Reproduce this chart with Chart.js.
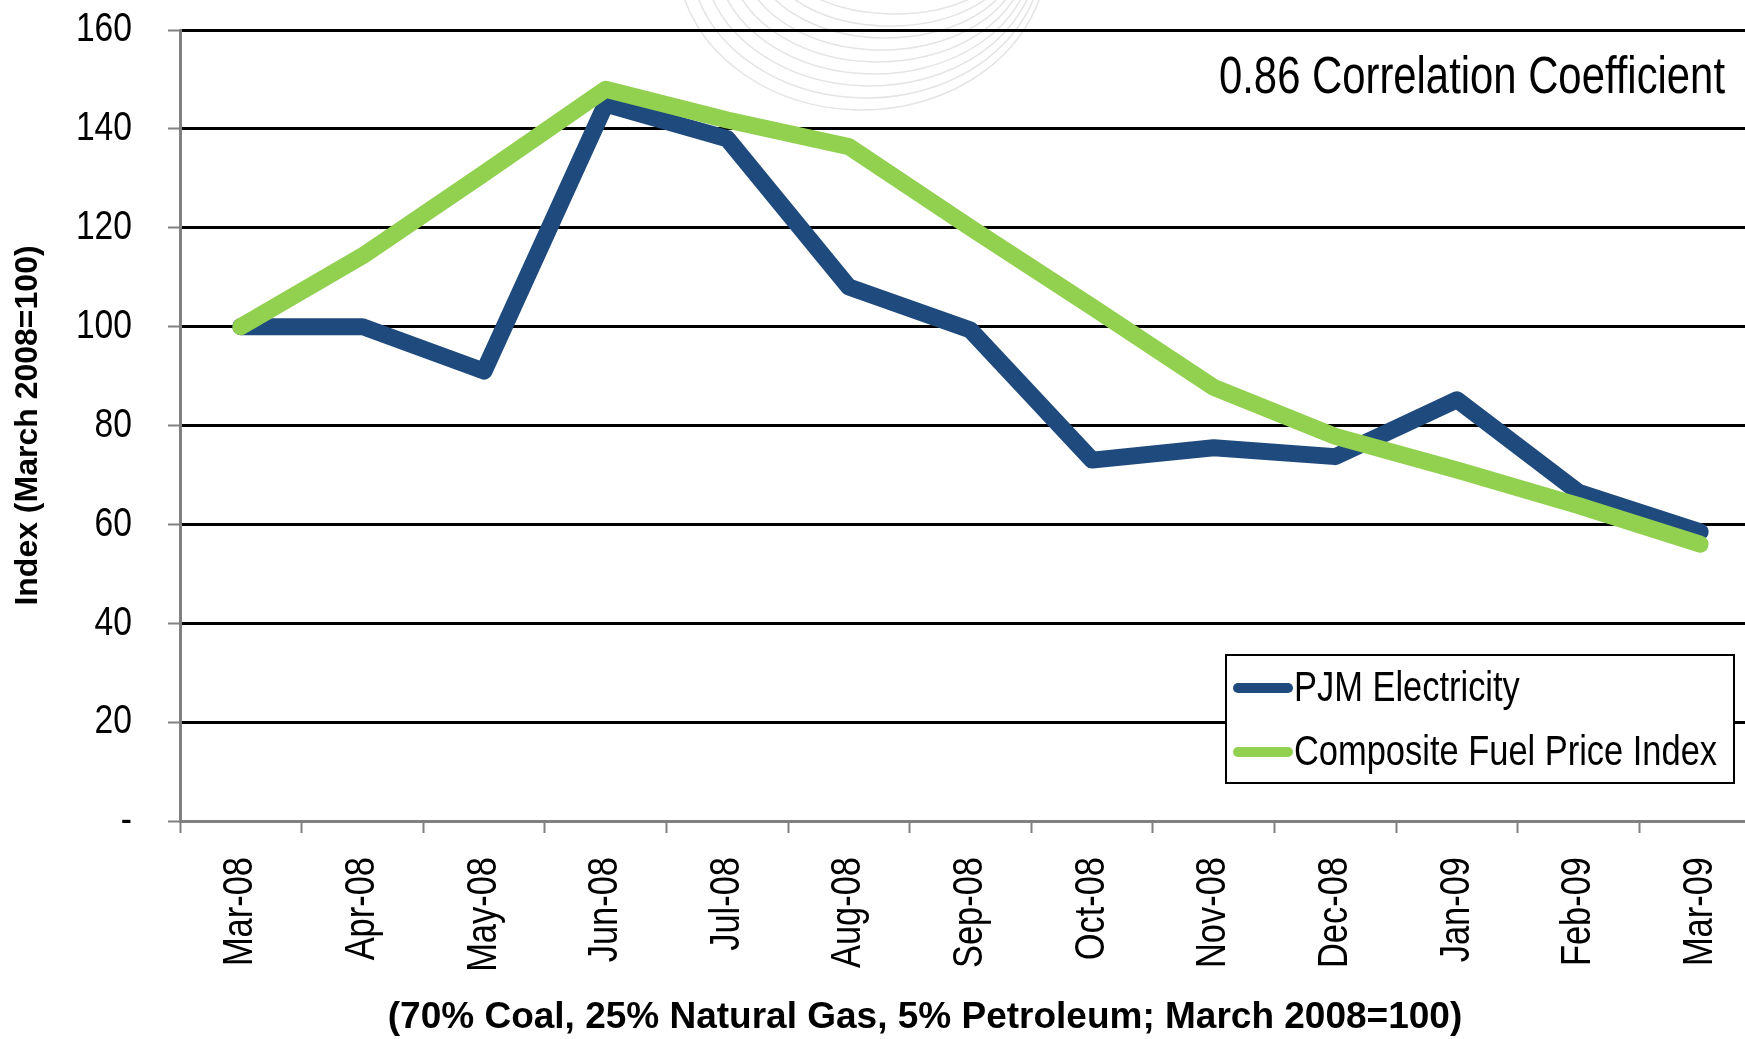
<!DOCTYPE html>
<html>
<head>
<meta charset="utf-8">
<script src="https://cdn.jsdelivr.net/npm/chart.js@4/dist/chart.umd.min.js"></script>
<style>
  html, body { margin: 0; padding: 0; background: #fff; overflow: hidden; }
  #wrap { position: relative; width: 1765px; height: 1039px; }
</style>
</head>
<body>
<div id="wrap"><canvas id="chart"></canvas></div>
<script>
const months = ["Mar-08", "Apr-08", "May-08", "Jun-08", "Jul-08", "Aug-08", "Sep-08",
  "Oct-08", "Nov-08", "Dec-08", "Jan-09", "Feb-09", "Mar-09"];
const pjmElectricity = [100, 100, 91, 145, 138, 108, 99.3, 73, 75.5, 73.7, 85.2, 66.5, 58.5];
const compositeFuel = [100, 114.3, 131, 148, 141.8, 136.4, 120, 104, 87.7, 77.8, 71, 63.8, 56];
const yTicks = [0, 20, 40, 60, 80, 100, 120, 140, 160];

const SANS = "'Liberation Sans', Arial, sans-serif";
const BLUE = "#1F4A7D";
const GREEN = "#92D050";
const AXIS_GREY = "#808080";

// no Arial Narrow here, so squeeze Liberation Sans sideways
function narrowText(ctx, text, x, y, size, align, rotated) {
  ctx.save();
  ctx.translate(x, y);
  if (rotated) ctx.rotate(-Math.PI / 2);
  ctx.scale(0.82, 1);
  ctx.font = size + "px " + SANS;
  ctx.textAlign = align;
  ctx.textBaseline = "middle";
  ctx.fillStyle = "#000";
  ctx.fillText(text, 0, 0);
  ctx.restore();
}

// faint logo arcs behind the plot
const watermark = {
  id: "watermark",
  beforeDraw(chart) {
    const ctx = chart.ctx;
    ctx.save();
    ctx.strokeStyle = "#E4E4E4";
    ctx.lineWidth = 1.5;
    for (let i = 0; i < 9; i++) {
      ctx.beginPath();
      ctx.ellipse(862 + i * 4, -45, 185 - i * 9, 155 - i * 12, 0, 0.05, Math.PI - 0.25);
      ctx.stroke();
    }
    ctx.restore();
  }
};

// tick labels, correlation note, x caption and the boxed legend
const extras = {
  id: "extras",
  afterDraw(chart) {
    const ctx = chart.ctx;
    const xs = chart.scales.x;
    const ys = chart.scales.y;

    ys.ticks.forEach((t) => {
      narrowText(ctx, t.value === 0 ? "-" : String(t.value), 132, ys.getPixelForValue(t.value), 41, "right", false);
    });
    xs.ticks.forEach((t, i) => {
      narrowText(ctx, months[i], xs.getPixelForTick(i), xs.top + 36, 42, "right", true);
    });

    narrowText(ctx, "0.86 Correlation Coefficient", 1725, 79, 51, "right", false);

    ctx.save();
    ctx.fillStyle = "#000";
    ctx.textBaseline = "middle";
    ctx.font = "bold 37px " + SANS;
    ctx.textAlign = "center";
    ctx.fillText("(70% Coal, 25% Natural Gas, 5% Petroleum; March 2008=100)", 925, 1018);

    const box = { x: 1226, y: 655, w: 508, h: 128 };
    ctx.fillStyle = "#fff";
    ctx.fillRect(box.x, box.y, box.w, box.h);
    ctx.strokeStyle = "#000";
    ctx.lineWidth = 2;
    ctx.strokeRect(box.x, box.y, box.w, box.h);

    const rows = [688, 752];
    chart.data.datasets.forEach((ds, i) => {
      ctx.strokeStyle = ds.borderColor;
      ctx.lineWidth = 10;
      ctx.lineCap = "round";
      ctx.beginPath();
      ctx.moveTo(1238, rows[i]);
      ctx.lineTo(1288, rows[i]);
      ctx.stroke();
      narrowText(ctx, ds.label, 1294, rows[i] + 1, 42, "left", false);
    });
    ctx.restore();
  }
};

new Chart(document.getElementById("chart"), {
  type: "line",
  data: {
    labels: months,
    datasets: [
      {
        label: "PJM Electricity",
        data: pjmElectricity,
        borderColor: BLUE,
        backgroundColor: BLUE,
        borderWidth: 17,
        borderCapStyle: "round",
        borderJoinStyle: "round",
        pointRadius: 0,
        tension: 0,
        order: 1,
      },
      {
        label: "Composite Fuel Price Index",
        data: compositeFuel,
        borderColor: GREEN,
        backgroundColor: GREEN,
        borderWidth: 17,
        borderCapStyle: "round",
        borderJoinStyle: "round",
        pointRadius: 0,
        tension: 0,
        order: 0,
      },
    ],
  },
  options: {
    responsive: true,
    maintainAspectRatio: false,
    animation: false,
    layout: { padding: { top: 30, right: 4, left: 0, bottom: 0 } },
    plugins: {
      legend: { display: false },
      tooltip: { enabled: false },
    },
    scales: {
      x: {
        type: "category",
        offset: true,
        grid: {
          offset: true,
          drawOnChartArea: false,
          drawTicks: true,
          tickLength: 12,
          tickColor: AXIS_GREY,
          tickWidth: 2,
        },
        border: { color: AXIS_GREY, width: 3 },
        ticks: { display: false },
        afterFit(scale) { scale.height = 218; },
      },
      y: {
        min: 0,
        max: 160,
        afterBuildTicks(scale) { scale.ticks = yTicks.map((v) => ({ value: v })); },
        ticks: { display: false },
        grid: {
          color: (c) => (c.tick && c.tick.value === 0 ? AXIS_GREY : "#000"),
          lineWidth: 3,
          drawTicks: true,
          tickLength: 12,
          tickColor: AXIS_GREY,
          tickWidth: 2,
        },
        border: { color: AXIS_GREY, width: 3 },
        title: {
          display: true,
          text: "Index (March 2008=100)",
          color: "#000",
          font: { family: SANS, size: 32, weight: "bold" },
          padding: { top: 9, bottom: 0 },
        },
        afterFit(scale) { scale.width = 180; },
      },
    },
  },
  plugins: [watermark, extras],
});
</script>
</body>
</html>
